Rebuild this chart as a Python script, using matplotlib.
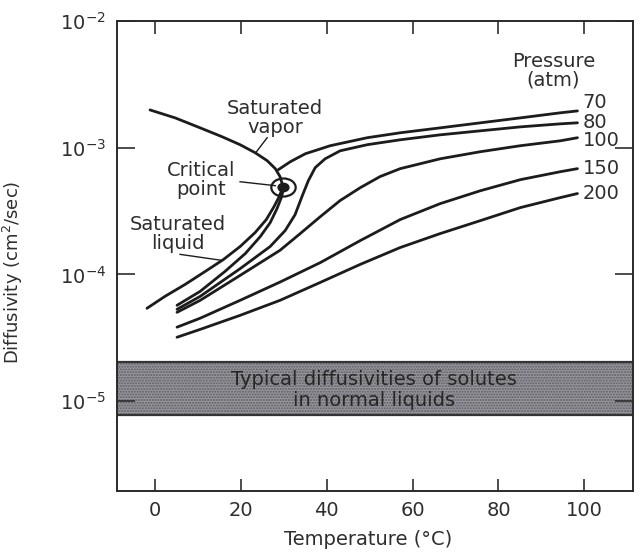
import matplotlib
matplotlib.use('Agg')
import matplotlib.pyplot as plt
from matplotlib.markers import MarkerStyle
from matplotlib.transforms import Affine2D

# Diffusivity of CO2 vs temperature at several pressures
pressures = ['70', '80', '100', '150', '200']

sat_vap_T = [-1.2, 4.7, 10.5, 15.6, 19.8, 23.3, 26.1, 28.0, 29.1, 29.8]
sat_vap_D = [1.99e-3, 1.72e-3, 1.436e-3, 1.222e-3, 1.057e-3, 9.14e-4,
             7.91e-4, 6.84e-4, 5.92e-4, 4.93e-4]

sat_liq_T = [-1.9, 2.3, 7.0, 11.7, 15.9, 19.8, 23.3, 25.9, 27.7, 28.9, 29.8]
sat_liq_D = [5.40e-5, 6.71e-5, 8.34e-5, 1.057e-4, 1.31e-4, 1.66e-4,
             2.14e-4, 2.71e-4, 3.43e-4, 4.11e-4, 4.93e-4]

p70_low_T = [5.1, 10.5, 16.3, 21.0, 24.5, 26.8, 28.4, 29.4, 29.8]
p70_low_D = [5.70e-5, 7.35e-5, 1.057e-4, 1.46e-4, 1.99e-4, 2.56e-4,
             3.31e-4, 4.04e-4, 4.58e-4]
p70_high_T = [28.7, 31.5, 35.0, 40.8, 49.4, 57.1, 66.4, 75.8, 85.1, 94.4, 98.4]
p70_high_D = [6.71e-4, 7.76e-4, 8.97e-4, 1.038e-3, 1.2e-3, 1.313e-3,
              1.436e-3, 1.574e-3, 1.722e-3, 1.888e-3, 1.954e-3]

p80_T = [5.1, 10.5, 19.8, 26.8, 30.3, 32.6, 34.3, 35.7, 37.3, 39.6, 43.1,
         49.4, 57.1, 66.4, 75.8, 85.1, 94.4, 98.4]
p80_D = [5.30e-5, 6.71e-5, 1.11e-4, 1.66e-4, 2.22e-4, 2.96e-4, 4.19e-4,
         5.50e-4, 6.97e-4, 8.18e-4, 9.46e-4, 1.057e-3, 1.156e-3, 1.265e-3,
         1.361e-3, 1.462e-3, 1.545e-3, 1.574e-3]

p100_T = [5.1, 10.5, 19.8, 29.1, 33.8, 38.5, 43.1, 47.8, 52.4, 57.1, 66.4,
          75.8, 85.1, 94.4, 98.4]
p100_D = [5.02e-5, 6.24e-5, 9.82e-5, 1.55e-4, 2.10e-4, 2.86e-4, 3.83e-4,
          4.84e-4, 5.92e-4, 6.84e-4, 8.18e-4, 9.31e-4, 1.038e-3, 1.135e-3, 1.2e-3]

p150_T = [5.1, 10.5, 19.8, 29.1, 38.5, 47.8, 57.1, 66.4, 75.8, 85.1, 94.4, 98.4]
p150_D = [3.83e-5, 4.51e-5, 6.24e-5, 8.7e-5, 1.24e-4, 1.85e-4, 2.71e-4,
          3.62e-4, 4.58e-4, 5.60e-4, 6.47e-4, 6.84e-4]

p200_T = [5.1, 10.5, 19.8, 29.1, 38.5, 47.8, 57.1, 66.4, 75.8, 85.1, 94.4, 98.4]
p200_D = [3.19e-5, 3.68e-5, 4.75e-5, 6.24e-5, 8.65e-5, 1.20e-4, 1.63e-4,
          2.10e-4, 2.66e-4, 3.37e-4, 4.04e-4, 4.35e-4]

# label heights at the right end of each isobar
pressure_label_D = [2.26e-3, 1.57e-3, 1.135e-3, 6.84e-4, 4.35e-4]

critical_T, critical_D = 29.8, 4.93e-4
band_low, band_high = 7.8e-6, 2.04e-5

x_ticks = [0, 20, 40, 60, 80, 100]
y_ticks = [1e-5, 1e-4, 1e-3, 1e-2]
y_tick_labels = ['$10^{-5}$', '$10^{-4}$', '$10^{-3}$', '$10^{-2}$']

INK = '#1c1c1c'
TXT = '#2e2e2e'
FS = 14

fig = plt.figure(figsize=(6.39, 5.56), dpi=100)
ax = fig.add_axes([0.183, 0.117, 0.808, 0.845])
ax.set_yscale('log')
ax.set_xlim(-8.9, 111.4)
ax.set_ylim(1.95e-6, 1e-2)

# Band of typical liquid diffusivities
ax.axhspan(band_low, band_high, facecolor='#96969c', edgecolor='#5c5c62',
           hatch='......', linewidth=0, zorder=1)
ax.axhline(band_low, color='#333333', linewidth=1.6, zorder=2)
ax.axhline(band_high, color='#333333', linewidth=1.6, zorder=2)
ax.text(51, 1.22e-5, 'Typical diffusivities of solutes\nin normal liquids',
        ha='center', va='center', fontsize=FS, color='#262626',
        linespacing=1.1, zorder=3)

# Curves
line_kw = dict(color=INK, linewidth=2.0, solid_joinstyle='round',
               solid_capstyle='round', zorder=4)
ax.plot(sat_vap_T, sat_vap_D, **line_kw)
ax.plot(sat_liq_T, sat_liq_D, **line_kw)
ax.plot(p70_low_T, p70_low_D, **line_kw)
ax.plot(p70_high_T, p70_high_D, **line_kw)
ax.plot(p80_T, p80_D, **line_kw)
ax.plot(p100_T, p100_D, **line_kw)
ax.plot(p150_T, p150_D, **line_kw)
ax.plot(p200_T, p200_D, **line_kw)

# Critical point marker (oval ring with a dot)
ring = MarkerStyle('o', fillstyle='none', transform=Affine2D().scale(1.35, 1.0))
ax.plot(critical_T, critical_D, marker=ring, markersize=13,
        markeredgecolor=INK, markeredgewidth=1.6, linestyle='none', zorder=5)
ax.plot(critical_T, critical_D,
        marker=MarkerStyle('o', transform=Affine2D().scale(1.3, 1.0)),
        markersize=6, color=INK, linestyle='none', zorder=6)

# Annotations with leader lines
ax.text(28.0, 1.72e-3, 'Saturated\nvapor', ha='center', va='center',
        fontsize=FS, color=TXT, linespacing=1.05)
ax.plot([26.1, 23.5], [1.2e-3, 9.2e-4], color=INK, linewidth=1.0)

ax.text(10.7, 5.6e-4, 'Critical\npoint', ha='center', va='center',
        fontsize=FS, color=TXT, linespacing=1.0)
ax.plot([19.8, 28.0], [5.39e-4, 5.02e-4], color=INK, linewidth=1.0)

ax.text(5.4, 2.07e-4, 'Saturated\nliquid', ha='center', va='center',
        fontsize=FS, color=TXT, linespacing=1.0)
ax.plot([5.8, 15.6], [1.44e-4, 1.29e-4], color=INK, linewidth=1.0)

ax.text(92.8, 4.04e-3, 'Pressure\n(atm)', ha='center', va='center',
        fontsize=FS, color=TXT, linespacing=1.0)
for label, d in zip(pressures, pressure_label_D):
    ax.text(99.6, d, label, ha='left', va='center', fontsize=FS, color=TXT)

# Axes styling
ax.set_xticks(x_ticks)
ax.set_xticklabels([str(t) for t in x_ticks])
ax.set_yticks(y_ticks)
ax.set_yticklabels(y_tick_labels)
ax.yaxis.set_minor_locator(matplotlib.ticker.NullLocator())
ax.tick_params(axis='x', direction='in', length=9, width=1.2, top=True,
               labelsize=FS, colors=TXT, pad=7)
ax.tick_params(axis='y', direction='in', length=13, width=1.2, right=True,
               labelsize=FS, colors=TXT, pad=8)
for spine in ax.spines.values():
    spine.set_linewidth(1.4)
    spine.set_color('#2a2a2a')

ax.set_xlabel('Temperature (°C)', fontsize=FS, color=TXT)
ax.xaxis.set_label_coords(0.486, -0.083)
ax.set_ylabel('Diffusivity (cm$^2$/sec)', fontsize=13, color=TXT)
ax.yaxis.set_label_coords(-0.178, 0.466)

plt.savefig('out.png', dpi=100)
plt.close()
